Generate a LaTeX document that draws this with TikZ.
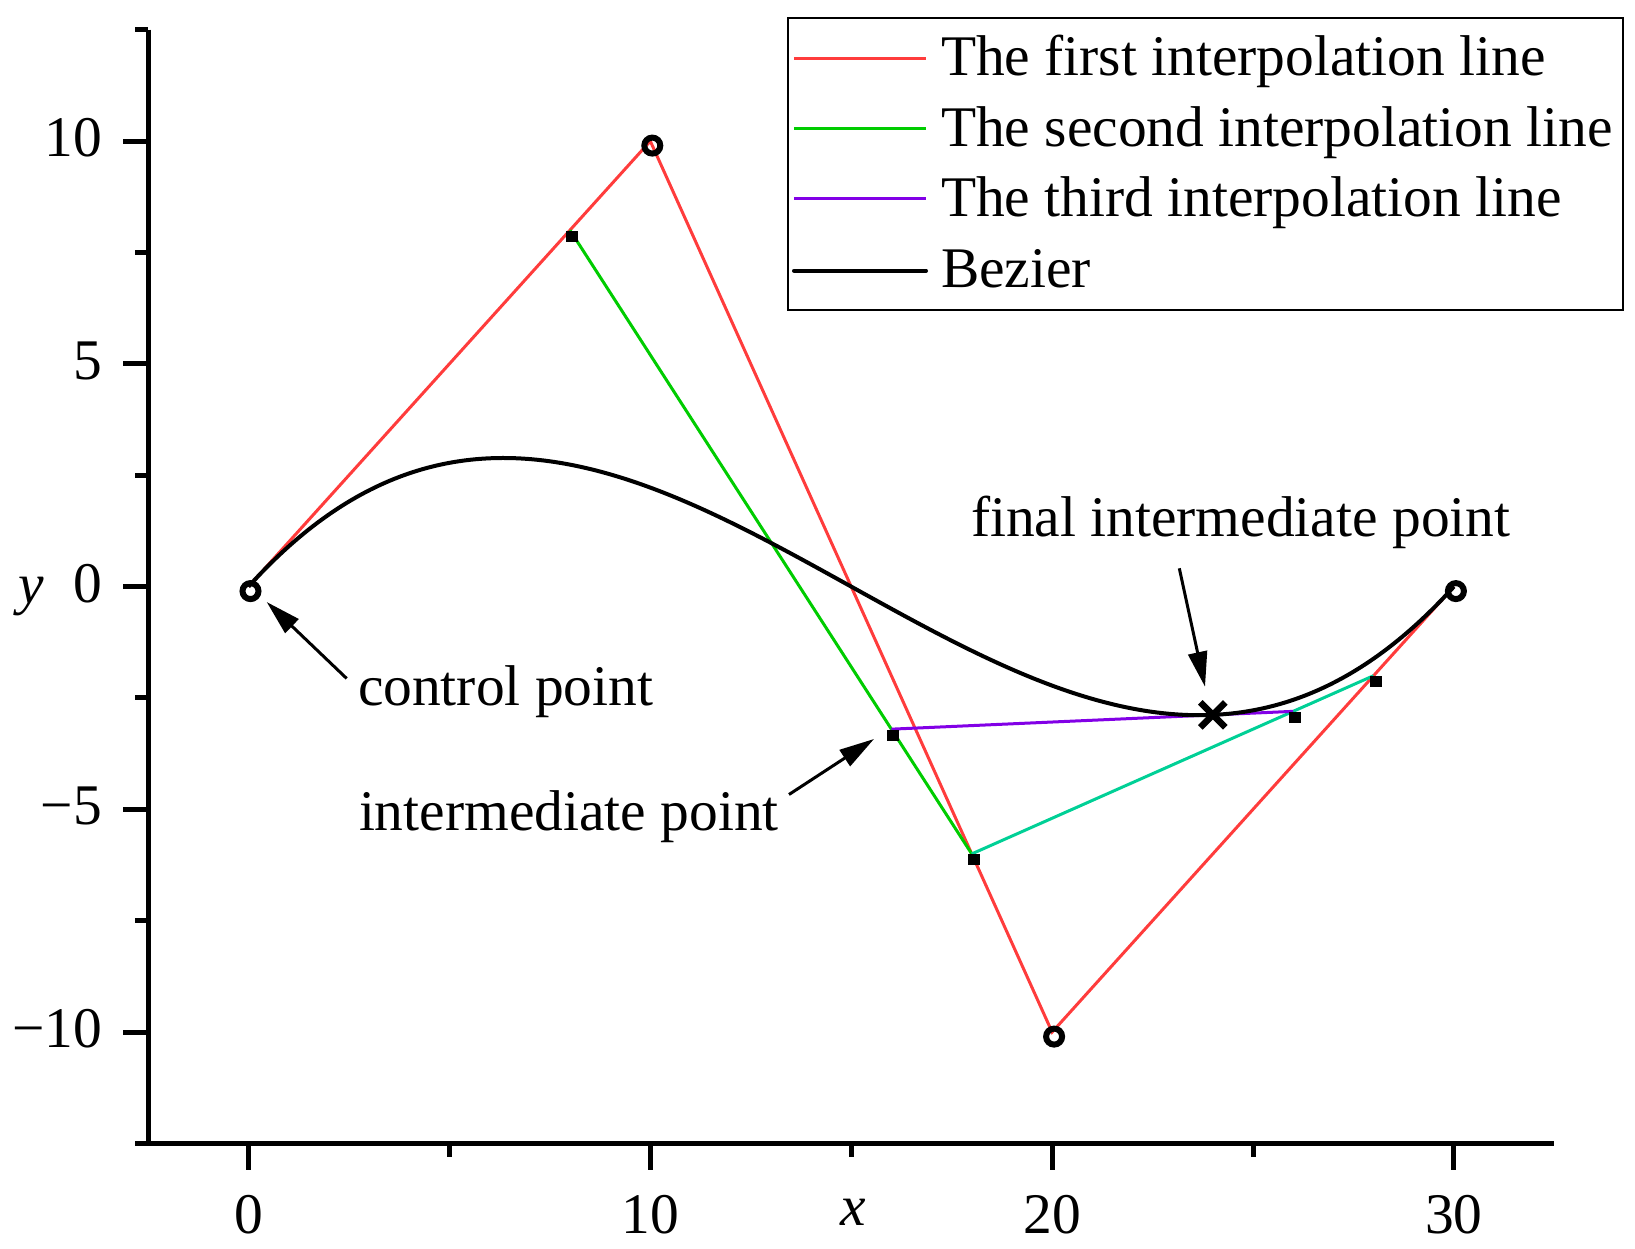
\documentclass[tikz,border=0pt]{standalone}
\usepackage{fontspec}
\setmainfont{Liberation Serif}
\usetikzlibrary{arrows.meta}
\definecolor{cred}{RGB}{255,60,60}
\definecolor{cgreen}{RGB}{0,204,0}
\definecolor{cteal}{RGB}{0,208,150}
\definecolor{cpurple}{RGB}{130,0,230}
\begin{document}
\begin{tikzpicture}[x=0.8036cm,y=0.891cm,
  declare function={gx(\a)=(\a-248.5)/40.18; gy(\b)=(586.6-\b)/44.55;},
  lbl/.style={font=\fontsize{32.7pt}{38pt}\selectfont, inner sep=0pt, outer sep=0pt},
  axisline/.style={line width=0.1cm, line cap=butt},
  redline/.style={cred, line width=0.06cm},
  greenline/.style={cgreen, line width=0.06cm},
  tealline/.style={cteal, line width=0.06cm},
  purpleline/.style={cpurple, line width=0.06cm},
  bezline/.style={black, line width=0.08cm},
  ring/.style={circle, draw=black, line width=0.12cm, minimum size=0.32cm, inner sep=0pt, xshift=0.04cm, yshift=-0.09cm},
  sqmark/.style={rectangle, fill=black, draw=none, minimum width=0.24cm, minimum height=0.22cm, inner sep=0pt, xshift=0.04cm, yshift=-0.12cm},
  crossline/.style={black, line width=0.13cm, line cap=butt},
  pointer/.style={black, line width=0.06cm, -{Triangle[length=0.7cm,width=0.38cm]}}
]
\useasboundingbox ({gx(0)},{gy(1248)}) rectangle ({gx(1635)},{gy(0)});

% axes
\draw[axisline] (-2.5,12.5) -- (-2.5,-12.5) -- (32.5,-12.5);
\foreach \v in {-10,-5,0,5,10} \draw[axisline] (-2.5,\v) -- ++(-0.622,0);
\foreach \v in {-12.5,-7.5,-2.5,2.5,7.5,12.5} \draw[axisline] (-2.5,\v) -- ++(-0.324,0);
\foreach \v in {0,10,20,30} \draw[axisline] (\v,-12.5) -- ++(0,-0.606);
\foreach \v in {5,15,25} \draw[axisline] (\v,-12.5) -- ++(0,-0.303);

% tick labels
\foreach \v/\t [count=\i] in {-10/−10,-5/−5,0/0,5/5,10/10}
  \node[lbl, anchor=east] (yl\i) at ({gx(102)},{\v+0.067}) {\t};
\foreach \v [count=\i] in {0,10,20,30}
  \node[lbl, anchor=base] (xl\i) at ({\v},{gy(1233)}) {\v};
\node[lbl, anchor=base] (xlab) at ({gx(853)},{gy(1225)}) {\textit{x}};
\node[lbl, anchor=base] (ylab) at ({gx(31)},{gy(603)}) {\textit{y}};

% points
\coordinate (P0) at (0,0);
\coordinate (P1) at (10,10);
\coordinate (P2) at (20,-10);
\coordinate (P3) at (30,0);
\coordinate (A1) at (8,8);
\coordinate (A2) at (18,-6);
\coordinate (A3) at (28,-2);
\coordinate (B1) at (16,-3.2);
\coordinate (B2) at (26,-2.8);
\coordinate (C) at (24,-2.88);

% interpolation lines
\draw[redline] (P0) -- (P1) -- (P2) -- (P3);
\draw[greenline] (A1) -- (A2);
\draw[tealline] (A2) -- (A3);
\draw[purpleline] (B1) -- (B2);
\draw[bezline] (P0) .. controls (P1) and (P2) .. (P3);

% markers
\node[ring] (r0) at (P0) {};
\node[ring] (r1) at (P1) {};
\node[ring] (r2) at (P2) {};
\node[ring] (r3) at (P3) {};
\node[sqmark] (s1) at (A1) {};
\node[sqmark] (s2) at (A2) {};
\node[sqmark] (s3) at (A3) {};
\node[sqmark] (s4) at (B1) {};
\node[sqmark] (s5) at (B2) {};
\draw[crossline] (C) ++(-0.25cm,-0.25cm) -- ++(0.5cm,0.5cm);
\draw[crossline] (C) ++(-0.25cm,0.25cm) -- ++(0.5cm,-0.5cm);

% annotations
\node[lbl, anchor=base west] (tcp) at ({gx(358)},{gy(705)}) {control point};
\node[lbl, anchor=base west] (tip) at ({gx(359)},{gy(830)}) {intermediate point};
\node[lbl, anchor=base west] (tfp) at ({gx(971)},{gy(537)}) {final intermediate point};
\coordinate (cpTail) at ({gx(346.7)},{gy(678.5)});
\coordinate (cpTip) at ({gx(266.7)},{gy(602)});
\coordinate (ipTail) at ({gx(789)},{gy(794.5)});
\coordinate (ipTip) at ({gx(874)},{gy(739)});
\coordinate (fpTail) at ({gx(1179.3)},{gy(568.3)});
\coordinate (fpTip) at ({gx(1205)},{gy(686.7)});
\draw[pointer] (cpTail) -- (cpTip);
\draw[pointer] (ipTail) -- (ipTip);
\draw[pointer] (fpTail) -- (fpTip);

% legend
\draw[black, line width=0.05cm, fill=white] ({gx(788)},{gy(18)}) rectangle ({gx(1623)},{gy(310)});
\draw[redline] ({gx(794)},{gy(58.3)}) -- ({gx(926)},{gy(58.3)});
\draw[greenline] ({gx(794)},{gy(128.3)}) -- ({gx(926)},{gy(128.3)});
\draw[purpleline] ({gx(794)},{gy(199)}) -- ({gx(926)},{gy(199)});
\draw[bezline, line cap=round] ({gx(794)},{gy(270.7)}) -- ({gx(926)},{gy(270.7)});
\node[lbl, anchor=base west] (lg1) at ({gx(941)},{gy(76)}) {The first interpolation line};
\node[lbl, anchor=base west] (lg2) at ({gx(941)},{gy(146.5)}) {The second interpolation line};
\node[lbl, anchor=base west] (lg3) at ({gx(941)},{gy(217)}) {The third interpolation line};
\node[lbl, anchor=base west] (lg4) at ({gx(941)},{gy(288)}) {Bezier};
\end{tikzpicture}
\end{document}
